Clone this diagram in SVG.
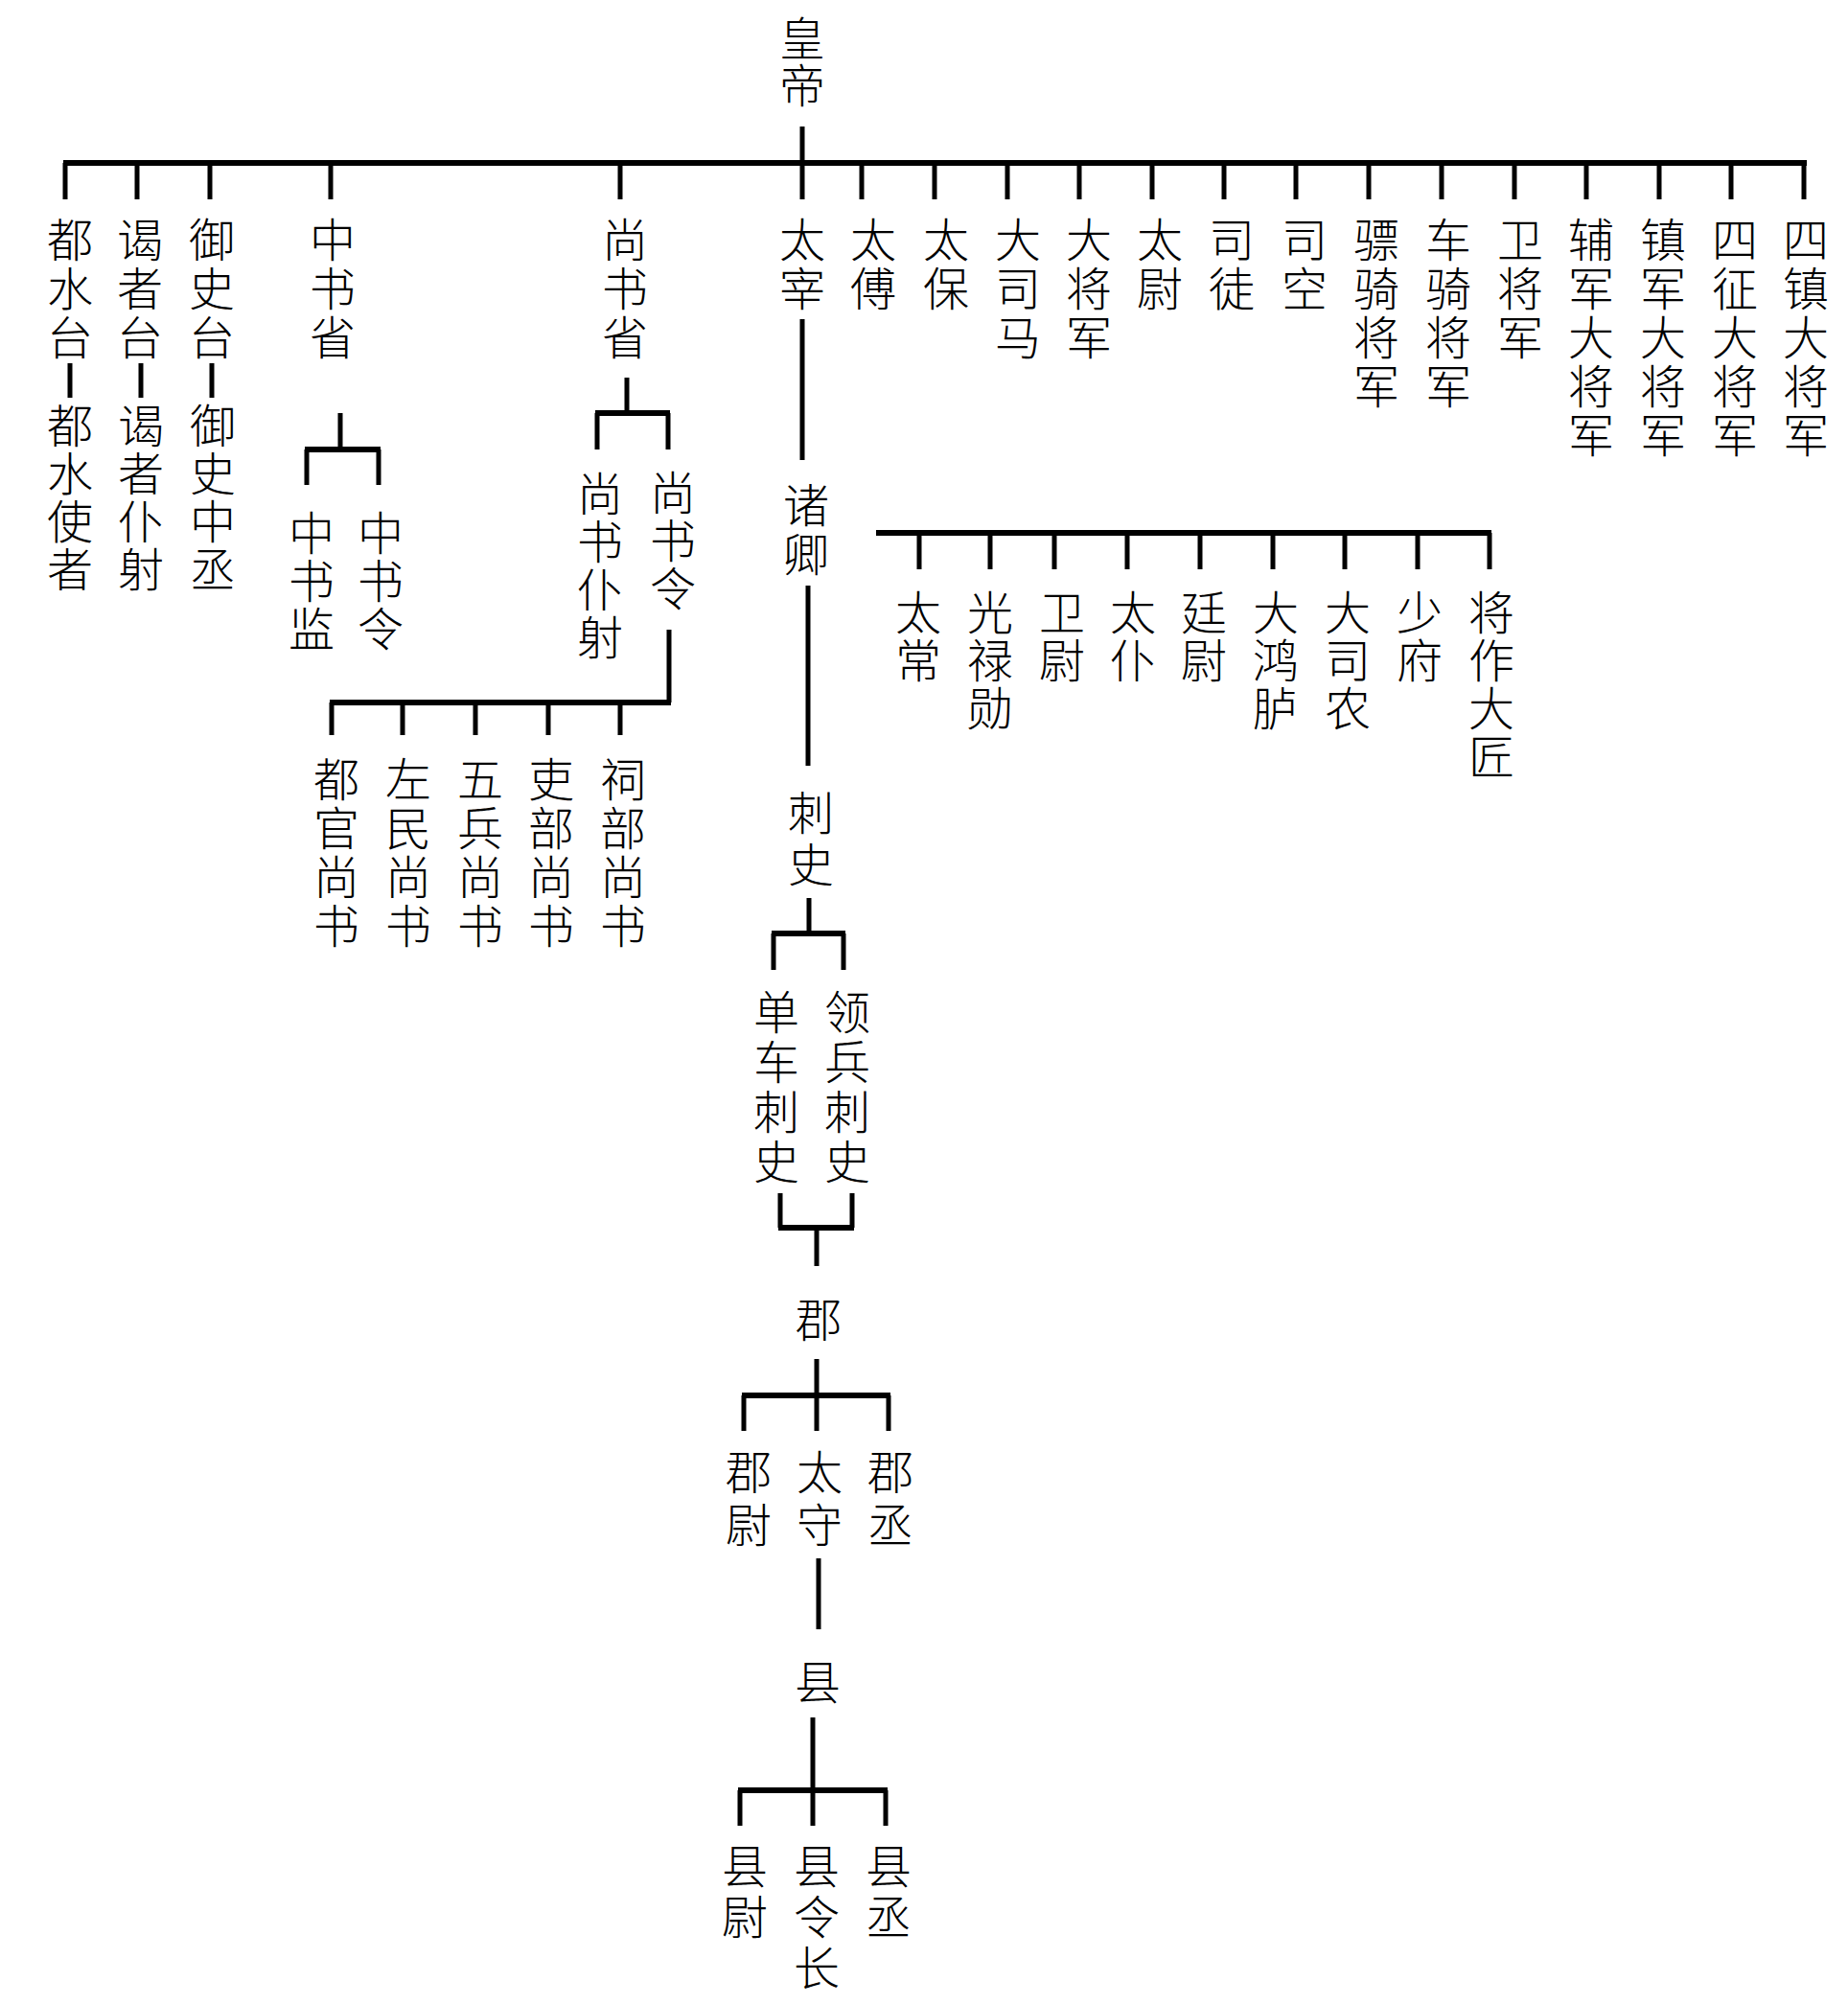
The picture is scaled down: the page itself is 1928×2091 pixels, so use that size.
<svg xmlns="http://www.w3.org/2000/svg" width="1928" height="2091" viewBox="0 0 1928 2091">
<style>
.t{font-family:"Liberation Serif","Noto Sans CJK SC",serif;font-size:48px;font-weight:300;fill:#000;text-anchor:middle}
.c{stroke:#000;stroke-width:5;fill:none;stroke-linecap:butt}
.b{stroke:#000;stroke-width:6;fill:none;stroke-linecap:butt}
</style>
<rect width="1928" height="2091" fill="#fff"/>
<g id="connectors">
<path class="c" d="M837 132V170"/>
<path class="b" d="M66 170H1885"/>
<path class="c" d="M68 170V208M143 170V208M219 170V208M345 170V208M647 170V208M837 170V208M899 170V208M975 170V208M1051 170V208M1126 170V208M1202 170V208M1277 170V208M1352 170V208M1428 170V208M1504 170V208M1580 170V208M1655 170V208M1731 170V208M1806 170V208M1882 170V208"/>
<path class="c" d="M73 379V415M147 379V415M221 379V415"/>
<path class="c" d="M355 431V469M320 469V506M395 469V506"/>
<path class="b" d="M318 469H397"/>
<path class="c" d="M654 394V431M623 431V469M697 431V469"/>
<path class="b" d="M621 431H699"/>
<path class="c" d="M698 657V733M346 733V767M420 733V767M496 733V767M572 733V767M647 733V767"/>
<path class="b" d="M344 733H700"/>
<path class="c" d="M837 333V480M843 611V799"/>
<path class="b" d="M914 556H1556"/>
<path class="c" d="M959 556V594M1033 556V594M1100 556V594M1176 556V594M1252 556V594M1328 556V594M1403 556V594M1479 556V594M1554 556V594"/>
<path class="c" d="M844 937V974M807 974V1012M880 974V1012"/>
<path class="b" d="M805 974H882"/>
<path class="c" d="M814 1245V1281M889 1245V1281M852 1281V1321"/>
<path class="b" d="M812 1281H891"/>
<path class="c" d="M852 1418V1456M776 1456V1493M852 1456V1493M927 1456V1493"/>
<path class="b" d="M774 1456H929"/>
<path class="c" d="M854 1626V1700"/>
<path class="c" d="M848 1792V1868M772 1868V1905M848 1868V1905M924 1868V1905"/>
<path class="b" d="M770 1868H926"/>
</g>
<g id="huangdi"><text class="t" x="837" y="58"><tspan x="837">皇</tspan><tspan x="837" dy="49">帝</tspan></text></g>
<g id="dushuitai"><text class="t" x="73" y="268"><tspan x="73">都</tspan><tspan x="73" dy="51">水</tspan><tspan x="73" dy="51">台</tspan></text></g>
<g id="yezhetai"><text class="t" x="146" y="268"><tspan x="146">谒</tspan><tspan x="146" dy="51">者</tspan><tspan x="146" dy="51">台</tspan></text></g>
<g id="yushitai"><text class="t" x="221" y="268"><tspan x="221">御</tspan><tspan x="221" dy="51">史</tspan><tspan x="221" dy="51">台</tspan></text></g>
<g id="zhongshusheng"><text class="t" x="347" y="268"><tspan x="347">中</tspan><tspan x="347" dy="51">书</tspan><tspan x="347" dy="51">省</tspan></text></g>
<g id="shangshusheng"><text class="t" x="652" y="268"><tspan x="652">尚</tspan><tspan x="652" dy="51">书</tspan><tspan x="652" dy="51">省</tspan></text></g>
<g id="taizai"><text class="t" x="837" y="268"><tspan x="837">太</tspan><tspan x="837" dy="51">宰</tspan></text></g>
<g id="taifu"><text class="t" x="911" y="268"><tspan x="911">太</tspan><tspan x="911" dy="51">傅</tspan></text></g>
<g id="taibao"><text class="t" x="987" y="268"><tspan x="987">太</tspan><tspan x="987" dy="51">保</tspan></text></g>
<g id="dasima"><text class="t" x="1062" y="268"><tspan x="1062">大</tspan><tspan x="1062" dy="51">司</tspan><tspan x="1062" dy="51">马</tspan></text></g>
<g id="dajiangjun"><text class="t" x="1136" y="268"><tspan x="1136">大</tspan><tspan x="1136" dy="51">将</tspan><tspan x="1136" dy="51">军</tspan></text></g>
<g id="taiwei"><text class="t" x="1210" y="268"><tspan x="1210">太</tspan><tspan x="1210" dy="51">尉</tspan></text></g>
<g id="situ"><text class="t" x="1285" y="268"><tspan x="1285">司</tspan><tspan x="1285" dy="51">徒</tspan></text></g>
<g id="sikong"><text class="t" x="1361" y="268"><tspan x="1361">司</tspan><tspan x="1361" dy="51">空</tspan></text></g>
<g id="piaoqi"><text class="t" x="1436" y="268"><tspan x="1436">骠</tspan><tspan x="1436" dy="51">骑</tspan><tspan x="1436" dy="51">将</tspan><tspan x="1436" dy="51">军</tspan></text></g>
<g id="cheqi"><text class="t" x="1511" y="268"><tspan x="1511">车</tspan><tspan x="1511" dy="51">骑</tspan><tspan x="1511" dy="51">将</tspan><tspan x="1511" dy="51">军</tspan></text></g>
<g id="weijiangjun"><text class="t" x="1586" y="268"><tspan x="1586">卫</tspan><tspan x="1586" dy="51">将</tspan><tspan x="1586" dy="51">军</tspan></text></g>
<g id="fujun"><text class="t" x="1660" y="268"><tspan x="1660">辅</tspan><tspan x="1660" dy="51">军</tspan><tspan x="1660" dy="51">大</tspan><tspan x="1660" dy="51">将</tspan><tspan x="1660" dy="51">军</tspan></text></g>
<g id="zhenjun"><text class="t" x="1735" y="268"><tspan x="1735">镇</tspan><tspan x="1735" dy="51">军</tspan><tspan x="1735" dy="51">大</tspan><tspan x="1735" dy="51">将</tspan><tspan x="1735" dy="51">军</tspan></text></g>
<g id="sizheng"><text class="t" x="1810" y="268"><tspan x="1810">四</tspan><tspan x="1810" dy="51">征</tspan><tspan x="1810" dy="51">大</tspan><tspan x="1810" dy="51">将</tspan><tspan x="1810" dy="51">军</tspan></text></g>
<g id="sizhen"><text class="t" x="1884" y="268"><tspan x="1884">四</tspan><tspan x="1884" dy="51">镇</tspan><tspan x="1884" dy="51">大</tspan><tspan x="1884" dy="51">将</tspan><tspan x="1884" dy="51">军</tspan></text></g>
<g id="dushuishizhe"><text class="t" x="73" y="462"><tspan x="73">都</tspan><tspan x="73" dy="50">水</tspan><tspan x="73" dy="50">使</tspan><tspan x="73" dy="50">者</tspan></text></g>
<g id="yezhepuye"><text class="t" x="147" y="462"><tspan x="147">谒</tspan><tspan x="147" dy="50">者</tspan><tspan x="147" dy="50">仆</tspan><tspan x="147" dy="50">射</tspan></text></g>
<g id="yushizhongcheng"><text class="t" x="222" y="462"><tspan x="222">御</tspan><tspan x="222" dy="50">史</tspan><tspan x="222" dy="50">中</tspan><tspan x="222" dy="50">丞</tspan></text></g>
<g id="zhongshujian"><text class="t" x="325" y="574"><tspan x="325">中</tspan><tspan x="325" dy="50">书</tspan><tspan x="325" dy="50">监</tspan></text></g>
<g id="zhongshuling"><text class="t" x="397" y="574"><tspan x="397">中</tspan><tspan x="397" dy="50">书</tspan><tspan x="397" dy="50">令</tspan></text></g>
<g id="shangshupuye"><text class="t" x="626" y="533"><tspan x="626">尚</tspan><tspan x="626" dy="50">书</tspan><tspan x="626" dy="50">仆</tspan><tspan x="626" dy="50">射</tspan></text></g>
<g id="shangshuling"><text class="t" x="702" y="532"><tspan x="702">尚</tspan><tspan x="702" dy="50">书</tspan><tspan x="702" dy="50">令</tspan></text></g>
<g id="duguan"><text class="t" x="351" y="831"><tspan x="351">都</tspan><tspan x="351" dy="51">官</tspan><tspan x="351" dy="51">尚</tspan><tspan x="351" dy="51">书</tspan></text></g>
<g id="zuomin"><text class="t" x="426" y="831"><tspan x="426">左</tspan><tspan x="426" dy="51">民</tspan><tspan x="426" dy="51">尚</tspan><tspan x="426" dy="51">书</tspan></text></g>
<g id="wubing"><text class="t" x="501" y="831"><tspan x="501">五</tspan><tspan x="501" dy="51">兵</tspan><tspan x="501" dy="51">尚</tspan><tspan x="501" dy="51">书</tspan></text></g>
<g id="libu"><text class="t" x="575" y="831"><tspan x="575">吏</tspan><tspan x="575" dy="51">部</tspan><tspan x="575" dy="51">尚</tspan><tspan x="575" dy="51">书</tspan></text></g>
<g id="cibu"><text class="t" x="650" y="831"><tspan x="650">祠</tspan><tspan x="650" dy="51">部</tspan><tspan x="650" dy="51">尚</tspan><tspan x="650" dy="51">书</tspan></text></g>
<g id="zhuqing"><text class="t" x="841" y="545"><tspan x="841">诸</tspan><tspan x="841" dy="51">卿</tspan></text></g>
<g id="taichang"><text class="t" x="958" y="657"><tspan x="958">太</tspan><tspan x="958" dy="50">常</tspan></text></g>
<g id="guanglu"><text class="t" x="1033" y="657"><tspan x="1033">光</tspan><tspan x="1033" dy="50">禄</tspan><tspan x="1033" dy="50">勋</tspan></text></g>
<g id="weiwei"><text class="t" x="1108" y="657"><tspan x="1108">卫</tspan><tspan x="1108" dy="50">尉</tspan></text></g>
<g id="taipu"><text class="t" x="1182" y="657"><tspan x="1182">太</tspan><tspan x="1182" dy="50">仆</tspan></text></g>
<g id="tingwei"><text class="t" x="1256" y="657"><tspan x="1256">廷</tspan><tspan x="1256" dy="50">尉</tspan></text></g>
<g id="dahonglu"><text class="t" x="1331" y="657"><tspan x="1331">大</tspan><tspan x="1331" dy="50">鸿</tspan><tspan x="1331" dy="50">胪</tspan></text></g>
<g id="dasinong"><text class="t" x="1406" y="657"><tspan x="1406">大</tspan><tspan x="1406" dy="50">司</tspan><tspan x="1406" dy="50">农</tspan></text></g>
<g id="shaofu"><text class="t" x="1481" y="657"><tspan x="1481">少</tspan><tspan x="1481" dy="50">府</tspan></text></g>
<g id="jiangzuo"><text class="t" x="1556" y="657"><tspan x="1556">将</tspan><tspan x="1556" dy="50">作</tspan><tspan x="1556" dy="50">大</tspan><tspan x="1556" dy="50">匠</tspan></text></g>
<g id="cishi"><text class="t" x="846" y="866"><tspan x="846">刺</tspan><tspan x="846" dy="54">史</tspan></text></g>
<g id="danche"><text class="t" x="810" y="1074"><tspan x="810">单</tspan><tspan x="810" dy="52">车</tspan><tspan x="810" dy="52">刺</tspan><tspan x="810" dy="52">史</tspan></text></g>
<g id="lingbing"><text class="t" x="884" y="1074"><tspan x="884">领</tspan><tspan x="884" dy="52">兵</tspan><tspan x="884" dy="52">刺</tspan><tspan x="884" dy="52">史</tspan></text></g>
<g id="jun"><text class="t" x="854" y="1395">郡</text></g>
<g id="junwei"><text class="t" x="781" y="1554"><tspan x="781">郡</tspan><tspan x="781" dy="55">尉</tspan></text></g>
<g id="taishou"><text class="t" x="855" y="1554"><tspan x="855">太</tspan><tspan x="855" dy="55">守</tspan></text></g>
<g id="juncheng"><text class="t" x="929" y="1554"><tspan x="929">郡</tspan><tspan x="929" dy="55">丞</tspan></text></g>
<g id="xian"><text class="t" x="853" y="1773">县</text></g>
<g id="xianwei"><text class="t" x="777" y="1965"><tspan x="777">县</tspan><tspan x="777" dy="53">尉</tspan></text></g>
<g id="xianlingzhang"><text class="t" x="852" y="1965"><tspan x="852">县</tspan><tspan x="852" dy="53">令</tspan><tspan x="852" dy="53">长</tspan></text></g>
<g id="xiancheng"><text class="t" x="927" y="1965"><tspan x="927">县</tspan><tspan x="927" dy="53">丞</tspan></text></g>
</svg>
